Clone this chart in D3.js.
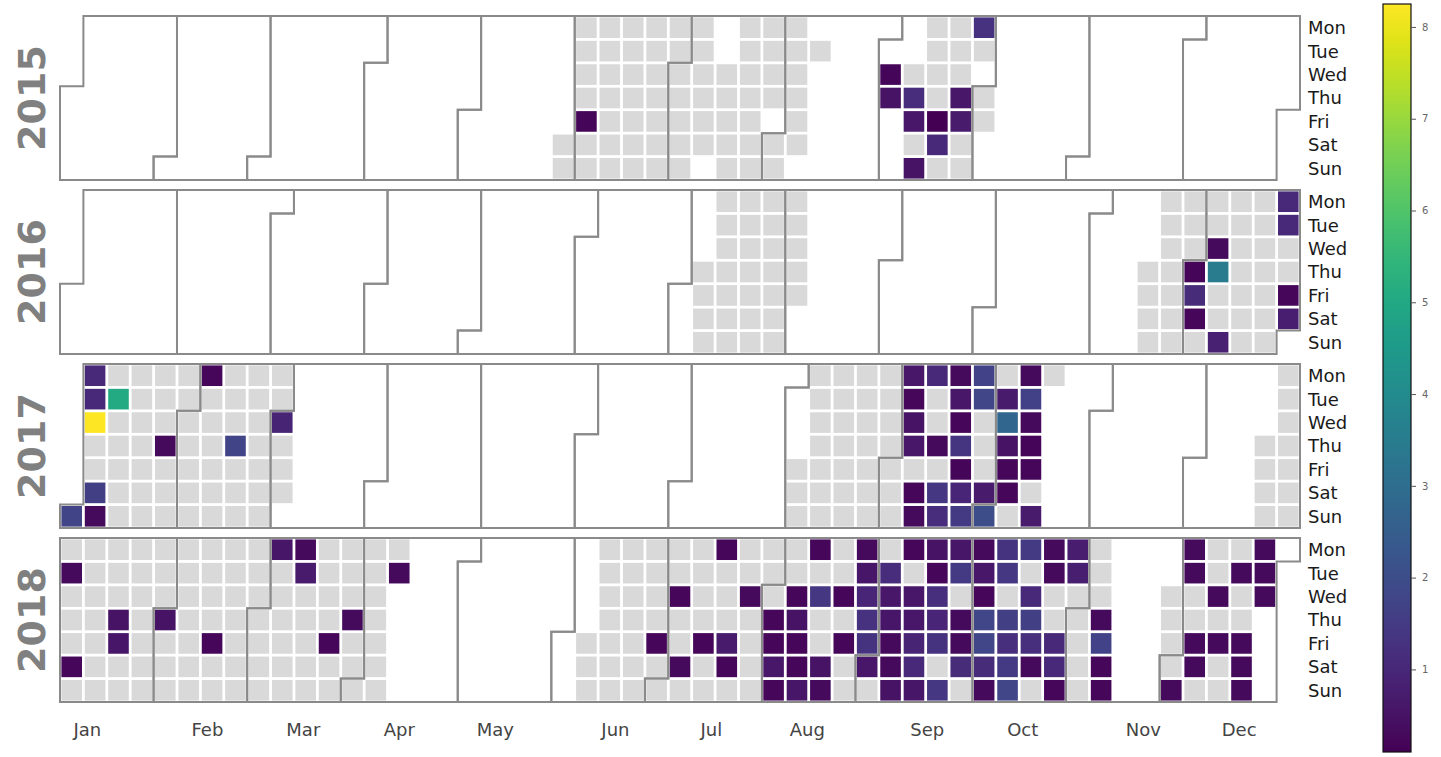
<!DOCTYPE html>
<html><head><meta charset="utf-8">
<script src="https://cdn.jsdelivr.net/npm/d3@7"></script>
<style>body{margin:0;background:#fff;} svg{display:block;}</style>
</head><body>
<svg id="chart" width="1441" height="757"></svg>
<script>
// ---------------- DATA ----------------
const years = [2015, 2016, 2017, 2018];
const dayLabels = ["Mon","Tue","Wed","Thu","Fri","Sat","Sun"];
const monthLabels = ["Jan","Feb","Mar","Apr","May","Jun","Jul","Aug","Sep","Oct","Nov","Dec"];
// month tick positions, in week-column units along the x axis
const monthTickPos = [1.17, 6.30, 10.40, 14.50, 18.61, 23.74, 27.84, 31.94, 37.07, 41.15, 46.30, 50.40];
const colorbarTicks = [1,2,3,4,5,6,7,8];

// days with a record (inclusive ranges); value is 0 unless listed in valuesYYYY
const recorded2015 = [["2015-05-30","2015-07-11"],["2015-07-15","2015-07-30"],["2015-08-01","2015-08-08"],
  ["2015-08-11","2015-08-11"],["2015-09-02","2015-09-03"],["2015-09-09","2015-09-29"],["2015-10-01","2015-10-02"]];
const values2015 = [["2015-06-05",0.2],["2015-09-02",0.2],["2015-09-03",0.5],["2015-09-10",1.15],["2015-09-11",0.6],
  ["2015-09-13",0.5],["2015-09-18",0.1],["2015-09-19",1.0],["2015-09-24",0.6],["2015-09-25",0.7],["2015-09-28",1.25]];

const recorded2016 = [["2016-07-07","2016-08-05"],["2016-11-17","2016-12-31"]];
const values2016 = [["2016-12-01",0.2],["2016-12-02",1.1],["2016-12-03",0.25],["2016-12-07",0.3],["2016-12-08",3.45],
  ["2016-12-11",0.85],["2016-12-26",1.0],["2016-12-27",1.0],["2016-12-30",0.25],["2016-12-31",0.8]];

const recorded2017 = [["2017-01-01","2017-03-04"],["2017-08-04","2017-10-16"],["2017-12-21","2017-12-31"]];
const values2017 = [["2017-01-01",1.75],["2017-01-02",1.0],["2017-01-03",1.0],["2017-01-04",8.25],["2017-01-07",1.6],
  ["2017-01-08",0.3],["2017-01-10",5.05],["2017-01-26",0.3],["2017-02-06",0.25],["2017-02-16",1.75],["2017-03-01",0.9],
  ["2017-09-04",0.6],["2017-09-05",0.25],["2017-09-06",0.5],["2017-09-07",0.6],["2017-09-09",0.25],["2017-09-10",0.3],
  ["2017-09-11",1.0],["2017-09-14",0.3],["2017-09-16",1.4],["2017-09-17",1.15],
  ["2017-09-18",0.3],["2017-09-19",0.6],["2017-09-20",0.25],["2017-09-21",1.35],["2017-09-22",0.2],["2017-09-23",0.95],["2017-09-24",1.5],
  ["2017-09-25",1.7],["2017-09-26",1.8],["2017-09-30",0.7],["2017-10-01",2.0],
  ["2017-10-03",0.7],["2017-10-04",2.8],["2017-10-05",0.5],["2017-10-06",0.25],["2017-10-07",0.25],
  ["2017-10-09",0.3],["2017-10-10",1.65],["2017-10-11",0.3],["2017-10-12",0.2],["2017-10-13",0.25],["2017-10-15",0.7]];

const recorded2018 = [["2018-01-01","2018-04-10"],["2018-06-08","2018-11-11"],["2018-11-28","2018-12-26"]];
const values2018 = [["2018-01-02",0.3],["2018-01-06",0.25],["2018-01-18",0.5],["2018-01-19",0.55],["2018-02-01",0.5],
  ["2018-02-16",0.25],["2018-03-05",0.55],["2018-03-12",0.3],["2018-03-13",0.7],["2018-03-23",0.25],["2018-03-29",0.3],["2018-04-10",0.3],
  ["2018-06-29",0.25],["2018-07-04",0.25],["2018-07-07",0.3],["2018-07-13",0.25],["2018-07-16",0.25],["2018-07-20",0.7],
  ["2018-07-21",0.25],["2018-07-25",0.3],["2018-08-02",0.25],["2018-08-03",0.25],["2018-08-04",0.6],["2018-08-05",0.25],
  ["2018-08-08",0.25],["2018-08-09",0.5],["2018-08-10",0.25],["2018-08-11",0.25],["2018-08-12",0.55],["2018-08-13",0.25],
  ["2018-08-15",1.4],["2018-08-18",0.5],["2018-08-19",0.3],["2018-08-22",0.25],["2018-08-24",0.25],["2018-08-27",0.3],
  ["2018-08-28",0.55],["2018-08-29",0.95],["2018-08-30",1.25],["2018-08-31",1.3],["2018-09-01",0.6],["2018-09-04",1.15],
  ["2018-09-05",0.6],["2018-09-06",0.55],["2018-09-07",0.3],["2018-09-08",0.3],["2018-09-09",0.5],["2018-09-10",0.25],
  ["2018-09-12",0.6],["2018-09-13",0.6],["2018-09-14",0.9],["2018-09-15",1.0],["2018-09-16",0.55],["2018-09-17",0.5],
  ["2018-09-18",0.25],["2018-09-19",1.2],["2018-09-20",0.95],["2018-09-21",1.3],["2018-09-23",1.4],["2018-09-24",0.55],
  ["2018-09-25",1.45],["2018-09-27",0.3],["2018-09-28",0.3],["2018-09-29",1.1],["2018-10-01",0.3],["2018-10-02",0.6],
  ["2018-10-03",0.25],["2018-10-04",1.8],["2018-10-05",1.8],["2018-10-06",1.1],["2018-10-07",0.3],["2018-10-08",1.3],
  ["2018-10-09",1.4],["2018-10-11",1.6],["2018-10-12",1.2],["2018-10-13",1.45],["2018-10-14",1.8],["2018-10-15",1.45],
  ["2018-10-17",1.05],["2018-10-18",1.6],["2018-10-19",1.2],["2018-10-20",0.3],["2018-10-22",0.3],["2018-10-23",0.3],
  ["2018-10-26",1.05],["2018-10-27",1.0],["2018-10-28",0.25],["2018-10-29",0.75],["2018-10-30",0.8],["2018-11-08",0.3],
  ["2018-11-09",1.7],["2018-11-10",0.25],["2018-11-11",0.25],
  ["2018-12-02",0.3],["2018-12-03",0.3],["2018-12-04",0.3],["2018-12-07",0.3],["2018-12-08",0.3],["2018-12-12",0.3],
  ["2018-12-14",0.3],["2018-12-18",0.3],["2018-12-21",0.3],["2018-12-22",0.3],["2018-12-23",0.3],["2018-12-24",0.3],
  ["2018-12-25",0.3],["2018-12-26",0.3]];

// ---------------- BUILD ----------------
const recordedByYear = new Map([[2015,recorded2015],[2016,recorded2016],[2017,recorded2017],[2018,recorded2018]]);
const valuesByYear = new Map([[2015,values2015],[2016,values2016],[2017,values2017],[2018,values2018]]);

const parse = d3.utcParse("%Y-%m-%d");
const fmt = d3.utcFormat("%Y-%m-%d");
const weekday = d => (d.getUTCDay() + 6) % 7;               // Monday = 0
const colOf = d => { const y0 = d3.utcYear(d); return Math.floor((d3.utcDay.count(y0, d) + weekday(y0)) / 7); };

const cells = [];
years.forEach(yr => {
  const vmap = new Map(valuesByYear.get(yr));
  recordedByYear.get(yr).forEach(([a, b]) => {
    d3.utcDay.range(parse(a), d3.utcDay.offset(parse(b), 1)).forEach(d => {
      const k = fmt(d);
      cells.push({year: yr, date: d, col: colOf(d), row: weekday(d), value: vmap.has(k) ? vmap.get(k) : 0});
    });
  });
});
const positives = cells.filter(c => c.value > 0).map(c => c.value);
const color = d3.scaleSequential(d3.interpolateViridis).domain(d3.extent(positives));

const svg = d3.select("#chart");
const x = d3.scaleLinear().domain([0, 53]).range([60, 1300]);
const band = d3.scaleBand().domain(years).range([16, 702]).paddingInner(10/174);
const yOf = yr => d3.scaleLinear().domain([0, 7]).range([band(yr), band(yr) + band.bandwidth()]);

const inset = 1.4;
const font = "DejaVu Sans, Verdana, sans-serif";

years.forEach(yr => {
  const y = yOf(yr);
  const g = svg.append("g");
  g.selectAll("rect.cell").data(cells.filter(c => c.year === yr)).join("rect")
    .attr("class", "cell")
    .attr("x", d => x(d.col) + inset)
    .attr("y", d => y(d.row) + inset)
    .attr("width", x(1) - x(0) - 2 * inset)
    .attr("height", y(1) - y(0) - 2 * inset)
    .attr("fill", d => d.value > 0 ? color(d.value) : "#d9d9d9");

  // month outlines
  const line = d3.line().x(p => x(p[0])).y(p => y(p[1]));
  d3.range(12).forEach(m => {
    const first = new Date(Date.UTC(yr, m, 1));
    const last = new Date(Date.UTC(yr, m + 1, 0));
    const x0 = colOf(first), r0 = weekday(first), x1 = colOf(last), r1 = weekday(last);
    const pts = [[x0, r0], [x0 + 1, r0], [x0 + 1, 0], [x1 + 1, 0], [x1 + 1, r1 + 1], [x1, r1 + 1], [x1, 7], [x0, 7]];
    g.append("path").attr("d", line(pts) + "Z")
      .attr("fill", "none").attr("stroke", "#8a8a8a").attr("stroke-width", 2).attr("stroke-linejoin", "miter");
  });

  // day labels
  g.selectAll("text.day").data(dayLabels).join("text")
    .attr("class", "day")
    .attr("x", 1308).attr("y", (d, i) => y(i + 0.5)).attr("dy", "0.36em")
    .attr("font-family", font).attr("font-size", 18).attr("fill", "#1a1a1a")
    .text(d => d);

  // year label
  g.append("text")
    .attr("transform", `translate(45,${band(yr) + band.bandwidth() / 2}) rotate(-90)`)
    .attr("text-anchor", "middle")
    .attr("font-family", font).attr("font-weight", "bold").attr("font-size", 38).attr("fill", "#808080")
    .text(yr);
});

// month labels under the last panel
const lastBottom = band(years[years.length - 1]) + band.bandwidth();
svg.append("g").selectAll("text").data(monthLabels).join("text")
  .attr("x", (d, i) => x(monthTickPos[i])).attr("y", lastBottom + 34)
  .attr("text-anchor", "middle")
  .attr("font-family", font).attr("font-size", 18).attr("fill", "#444")
  .text(d => d);

// colorbar
const cbX = 1383, cbW = 28, cbTop = 4, cbBot = 752;
const cbY = d3.scaleLinear().domain(color.domain()).range([cbBot, cbTop]);
const grad = svg.append("defs").append("linearGradient").attr("id", "cbgrad")
  .attr("x1", 0).attr("y1", 1).attr("x2", 0).attr("y2", 0);
d3.range(0, 1.0001, 0.05).forEach(t => grad.append("stop").attr("offset", t).attr("stop-color", d3.interpolateViridis(t)));
svg.append("rect").attr("x", cbX).attr("y", cbTop).attr("width", cbW).attr("height", cbBot - cbTop)
  .attr("fill", "url(#cbgrad)").attr("stroke", "#111").attr("stroke-width", 1.2);
const cbAxis = svg.append("g").attr("transform", `translate(${cbX + cbW},0)`)
  .call(d3.axisRight(cbY).tickValues(colorbarTicks).tickSize(5).tickPadding(6).tickFormat(d3.format("d")));
cbAxis.select(".domain").remove();
cbAxis.selectAll(".tick line").attr("stroke", "#555");
cbAxis.selectAll(".tick text").attr("fill", "#666").attr("font-size", 10).attr("font-family", font);
</script>
</body></html>
